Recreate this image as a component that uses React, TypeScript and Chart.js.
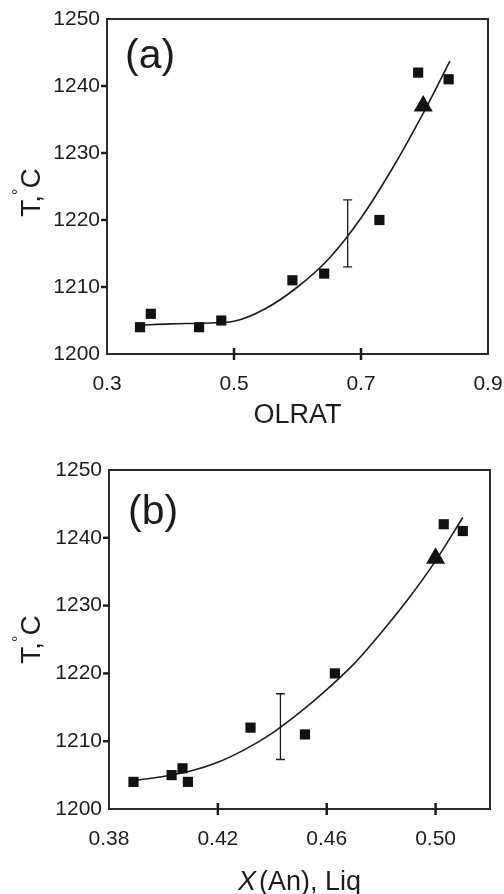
import React, { useEffect, useRef } from "react";
import { Chart, registerables } from "chart.js";

Chart.register(...registerables);

const FONT = "'Liberation Sans', Arial, Helvetica, sans-serif";
const INK = "#1c1c1c";

// ---------------- Panel (a): T vs OLRAT ----------------
const olratA = [0.352, 0.369, 0.445, 0.48, 0.592, 0.642, 0.729, 0.79, 0.838];
const tempA = [1204, 1206, 1204, 1205, 1211, 1212, 1220, 1242, 1241];
const triAX = [0.798];
const triAY = [1237];
const fitAX = [0.352, 0.4, 0.45, 0.5, 0.55, 0.6, 0.65, 0.7, 0.75, 0.8, 0.84];
const fitAY = [1204.3, 1204.5, 1204.6, 1204.9, 1206.8, 1210.0, 1214.3, 1220.3, 1227.8, 1236.3, 1243.7];
const errAX = [0.679];
const errALow = [1213];
const errAHigh = [1223];
const xTicksA = [0.3, 0.5, 0.7, 0.9];

// ---------------- Panel (b): T vs X(An), Liq ----------------
const xAnB = [0.389, 0.403, 0.407, 0.409, 0.432, 0.452, 0.463, 0.503, 0.51];
const tempB = [1204, 1205, 1206, 1204, 1212, 1211, 1220, 1242, 1241];
const triBX = [0.5];
const triBY = [1237];
const fitBX = [0.389, 0.4, 0.41, 0.42, 0.43, 0.44, 0.45, 0.46, 0.47, 0.48, 0.49, 0.5, 0.51];
const fitBY = [1204.2, 1204.8, 1205.6, 1206.9, 1208.8, 1211.2, 1214.2, 1217.6, 1221.4, 1226.0, 1231.0, 1236.6, 1243.0];
const errBX = [0.443];
const errBLow = [1207.3];
const errBHigh = [1217];
const xTicksB = [0.38, 0.42, 0.46, 0.5];

// shared y axis
const yTicks = [1200, 1210, 1220, 1230, 1240, 1250];

type Piece = { t: string; italic?: boolean; gap?: number };

type Spec = {
  height: number;
  padTop: number;
  padRight: number;
  yWidth: number;
  xHeight: number;
  xMin: number;
  xMax: number;
  xTicks: number[];
  decimals: number;
  ptsX: number[];
  ptsY: number[];
  triX: number[];
  triY: number[];
  fitX: number[];
  fitY: number[];
  errX: number[];
  errLow: number[];
  errHigh: number[];
  label: string;
  labelX: number;
  labelY: number;
  xTitle: Piece[];
  xTitleY: number;
  yTitleCY: number;
  yTitleBaseX: number;
};

function zip(xs: number[], ys: number[]) {
  return xs.map((x, i) => ({ x, y: ys[i] }));
}

function makeDecor(spec: Spec) {
  return {
    id: "decor",
    beforeDatasetsDraw(chart: any) {
      const ctx = chart.ctx as CanvasRenderingContext2D;
      const xs = chart.scales.x;
      const ys = chart.scales.y;
      ctx.save();
      ctx.strokeStyle = INK;
      ctx.lineWidth = 1.3;
      for (let i = 0; i < spec.errX.length; i++) {
        const px = xs.getPixelForValue(spec.errX[i]);
        const y1 = ys.getPixelForValue(spec.errLow[i]);
        const y2 = ys.getPixelForValue(spec.errHigh[i]);
        ctx.beginPath();
        ctx.moveTo(px, y1);
        ctx.lineTo(px, y2);
        ctx.moveTo(px - 4.5, y1);
        ctx.lineTo(px + 4.5, y1);
        ctx.moveTo(px - 4.5, y2);
        ctx.lineTo(px + 4.5, y2);
        ctx.stroke();
      }
      ctx.restore();
    },
    afterDraw(chart: any) {
      const ctx = chart.ctx as CanvasRenderingContext2D;
      const { left, right, top, bottom } = chart.chartArea;
      const xs = chart.scales.x;
      const ys = chart.scales.y;
      ctx.save();
      // frame
      ctx.strokeStyle = "#2a2a2a";
      ctx.lineWidth = 2;
      ctx.strokeRect(left, top, right - left, bottom - top);
      // tick marks
      ctx.lineWidth = 2.5;
      ctx.strokeStyle = INK;
      spec.xTicks.forEach((v) => {
        if (v <= spec.xMin || v >= spec.xMax) return;
        const px = xs.getPixelForValue(v);
        ctx.beginPath();
        ctx.moveTo(px, bottom - 6);
        ctx.lineTo(px, bottom + 6);
        ctx.stroke();
      });
      yTicks.forEach((v, i) => {
        if (i === 0 || i === yTicks.length - 1) return;
        const py = ys.getPixelForValue(v);
        ctx.beginPath();
        ctx.moveTo(left - 6, py);
        ctx.lineTo(left, py);
        ctx.stroke();
      });
      // panel label
      ctx.fillStyle = INK;
      ctx.textBaseline = "alphabetic";
      ctx.textAlign = "left";
      ctx.font = `41px ${FONT}`;
      ctx.fillText(spec.label, spec.labelX, spec.labelY);
      // x title
      const size = 27;
      const fontFor = (p: Piece) => `${p.italic ? "italic " : ""}${size}px ${FONT}`;
      let total = 0;
      spec.xTitle.forEach((p) => {
        ctx.font = fontFor(p);
        total += ctx.measureText(p.t).width + (p.gap || 0);
      });
      let x = (left + right) / 2 - total / 2;
      spec.xTitle.forEach((p) => {
        ctx.font = fontFor(p);
        ctx.fillText(p.t, x, spec.xTitleY);
        x += ctx.measureText(p.t).width + (p.gap || 0);
      });
      // y title  T,°C  (rotated)
      ctx.translate(spec.yTitleBaseX, spec.yTitleCY);
      ctx.rotate(-Math.PI / 2);
      const big = `28px ${FONT}`;
      const small = `16px ${FONT}`;
      ctx.font = big;
      const w1 = ctx.measureText("T,").width;
      const w3 = ctx.measureText("C").width;
      ctx.font = small;
      const w2 = ctx.measureText("°").width;
      let tx = -(w1 + w2 + w3) / 2;
      ctx.font = big;
      ctx.fillText("T,", tx, 0);
      tx += w1;
      ctx.font = small;
      ctx.fillText("°", tx, -16);
      tx += w2;
      ctx.font = big;
      ctx.fillText("C", tx, 0);
      ctx.restore();
    },
  };
}

function buildConfig(spec: Spec): any {
  return {
    type: "scatter",
    data: {
      datasets: [
        {
          data: zip(spec.triX, spec.triY),
          pointStyle: "triangle",
          pointRadius: 11,
          backgroundColor: "#111",
          borderColor: "#111",
          borderWidth: 0,
        },
        {
          data: zip(spec.ptsX, spec.ptsY),
          pointStyle: "rect",
          pointRadius: 7.2,
          backgroundColor: "#111",
          borderColor: "#111",
          borderWidth: 0,
        },
        {
          data: zip(spec.fitX, spec.fitY),
          showLine: true,
          pointRadius: 0,
          borderColor: INK,
          borderWidth: 1.6,
          cubicInterpolationMode: "monotone",
          fill: false,
        },
      ],
    },
    options: {
      responsive: false,
      animation: false,
      devicePixelRatio: 1,
      layout: { padding: { top: spec.padTop, right: spec.padRight, left: 0, bottom: 0 } },
      plugins: { legend: { display: false }, tooltip: { enabled: false } },
      scales: {
        x: {
          type: "linear",
          min: spec.xMin,
          max: spec.xMax,
          afterBuildTicks: (s: any) => {
            s.ticks = spec.xTicks.map((v) => ({ value: v }));
          },
          afterFit: (s: any) => {
            s.height = spec.xHeight;
            s.paddingLeft = 0;
            s.paddingRight = 0;
          },
          grid: { display: false, drawTicks: false },
          border: { display: false },
          ticks: {
            font: { family: FONT, size: 21 },
            color: INK,
            padding: 18,
            maxRotation: 0,
            autoSkip: false,
            callback: (v: any) => Number(v).toFixed(spec.decimals),
          },
        },
        y: {
          type: "linear",
          min: 1200,
          max: 1250,
          afterBuildTicks: (s: any) => {
            s.ticks = yTicks.map((v) => ({ value: v }));
          },
          afterFit: (s: any) => {
            s.width = spec.yWidth;
            s.paddingTop = 0;
            s.paddingBottom = 0;
          },
          grid: { display: false, drawTicks: false },
          border: { display: false },
          ticks: {
            font: { family: FONT, size: 21 },
            color: INK,
            padding: 7,
            autoSkip: false,
            callback: (v: any) => String(v),
          },
        },
      },
    },
    plugins: [makeDecor(spec)],
  };
}

const specA: Spec = {
  height: 440,
  padTop: 19,
  padRight: 16,
  yWidth: 107,
  xHeight: 86,
  xMin: 0.3,
  xMax: 0.9,
  xTicks: xTicksA,
  decimals: 1,
  ptsX: olratA,
  ptsY: tempA,
  triX: triAX,
  triY: triAY,
  fitX: fitAX,
  fitY: fitAY,
  errX: errAX,
  errLow: errALow,
  errHigh: errAHigh,
  label: "(a)",
  labelX: 125,
  labelY: 68,
  xTitle: [{ t: "OLRAT" }],
  xTitleY: 423,
  yTitleCY: 192.5,
  yTitleBaseX: 40,
};

const specB: Spec = {
  height: 454,
  padTop: 30,
  padRight: 14,
  yWidth: 109,
  xHeight: 85,
  xMin: 0.38,
  xMax: 0.52,
  xTicks: xTicksB,
  decimals: 2,
  ptsX: xAnB,
  ptsY: tempB,
  triX: triBX,
  triY: triBY,
  fitX: fitBX,
  fitY: fitBY,
  errX: errBX,
  errLow: errBLow,
  errHigh: errBHigh,
  label: "(b)",
  labelX: 128,
  labelY: 84,
  xTitle: [{ t: "X", italic: true, gap: 3 }, { t: "(An), Liq" }],
  xTitleY: 450,
  yTitleCY: 199.5,
  yTitleBaseX: 40,
};

function Panel({ spec, top }: { spec: Spec; top: number }) {
  const ref = useRef<HTMLCanvasElement>(null);
  useEffect(() => {
    const chart = new Chart(ref.current as HTMLCanvasElement, buildConfig(spec));
    return () => chart.destroy();
  }, [spec]);
  return (
    <canvas
      ref={ref}
      width={504}
      height={spec.height}
      style={{ position: "absolute", left: 0, top, width: 504, height: spec.height }}
    />
  );
}

export default function App() {
  return (
    <div
      style={{
        position: "absolute",
        left: 0,
        top: 0,
        width: 504,
        height: 894,
        overflow: "hidden",
        background: "#fff",
      }}
    >
      <Panel spec={specA} top={0} />
      <Panel spec={specB} top={440} />
    </div>
  );
}
